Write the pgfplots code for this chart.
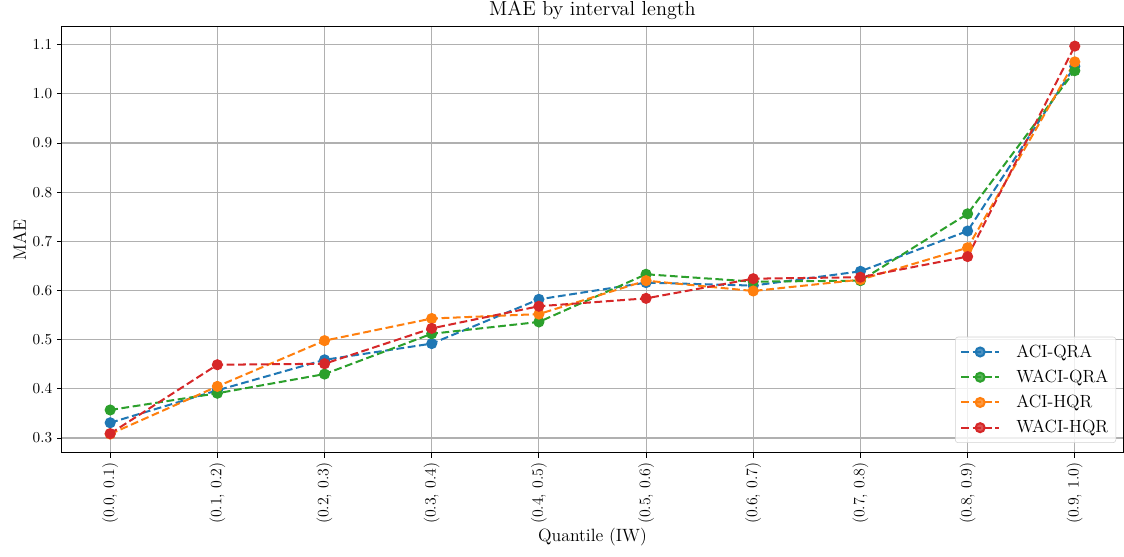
\documentclass[border=0pt]{standalone}
\usepackage{pgfplots}
\pgfplotsset{compat=1.18}

\definecolor{tabblue}{HTML}{1F77B4}
\definecolor{taborange}{HTML}{FF7F0E}
\definecolor{tabgreen}{HTML}{2CA02C}
\definecolor{tabred}{HTML}{D62728}
\definecolor{gridgray}{HTML}{B0B0B0}

% MAE per interval-length decile (x = 0..9)
\pgfplotstableread{
x  aciqra waciqra acihqr wacihqr
0  0.331  0.357   0.308  0.309
1  0.397  0.391   0.405  0.449
2  0.459  0.430   0.498  0.451
3  0.492  0.512   0.543  0.523
4  0.582  0.536   0.552  0.568
5  0.616  0.633   0.620  0.584
6  0.610  0.618   0.599  0.624
7  0.639  0.620   0.622  0.627
8  0.721  0.756   0.687  0.669
9  1.056  1.047   1.065  1.097
}\maetable

\begin{document}
\begin{tikzpicture}
\begin{axis}[
  scale only axis,
  width=763.9pt, height=306.7pt,
  xmin=-0.45, xmax=9.45,
  ymin=0.2696, ymax=1.136,
  xtick={0,...,9},
  xticklabels={{(0.0, 0.1)},{(0.1, 0.2)},{(0.2, 0.3)},{(0.3, 0.4)},{(0.4, 0.5)},{(0.5, 0.6)},{(0.6, 0.7)},{(0.7, 0.8)},{(0.8, 0.9)},{(0.9, 1.0)}},
  ytick={0.3,0.4,...,1.1},
  yticklabel style={/pgf/number format/fixed, /pgf/number format/fixed zerofill, /pgf/number format/precision=1},
  xticklabel style={rotate=90, anchor=east},
  tick label style={font=\fontsize{11.4}{13}\selectfont},
  tick align=outside,
  major tick length=3.5pt,
  tick style={black, line width=0.6pt},
  xtick pos=bottom, ytick pos=left,
  grid=major,
  grid style={gridgray, line width=0.8pt},
  axis line style={line width=0.7pt},
  title={MAE by interval length},
  title style={font=\fontsize{14.6}{17}\selectfont, yshift=-4.5pt},
  xlabel={Quantile (IW)},
  ylabel={MAE},
  label style={font=\fontsize{12.8}{15}\selectfont},
  xlabel style={yshift=4pt},
  ylabel style={yshift=-2pt},
  every axis plot/.append style={line width=1.45pt, dash pattern=on 5.6pt off 2.6pt},
  legend style={
    at={(0.9935,0.0235)}, anchor=south east,
    draw=gray!35, rounded corners=2pt, fill=white, fill opacity=0.8, text opacity=1,
    font=\fontsize{12.7}{15}\selectfont,
    row sep=3.6pt, inner sep=3.5pt,
  },
  legend cell align=left,
  legend image code/.code={
    \draw[mark repeat=2, mark phase=2] plot coordinates {(0cm,0cm) (0.48cm,0cm) (0.96cm,0cm)};
    \path (1.3cm,0cm);
  },
]
\addplot[tabblue, mark=*, mark size=3.25pt, mark options={solid}] table[x=x, y=aciqra] {\maetable};
\addlegendentry{ACI-QRA}
\addplot[tabgreen, mark=*, mark size=3.25pt, mark options={solid}] table[x=x, y=waciqra] {\maetable};
\addlegendentry{WACI-QRA}
\addplot[taborange, mark=*, mark size=3.25pt, mark options={solid}] table[x=x, y=acihqr] {\maetable};
\addlegendentry{ACI-HQR}
\addplot[tabred, mark=*, mark size=3.25pt, mark options={solid}] table[x=x, y=wacihqr] {\maetable};
\addlegendentry{WACI-HQR}
\end{axis}
\pgfresetboundingbox
\useasboundingbox (-44.6pt,-74.2pt) rectangle (764.6pt,326.1pt);
\end{tikzpicture}
\end{document}
